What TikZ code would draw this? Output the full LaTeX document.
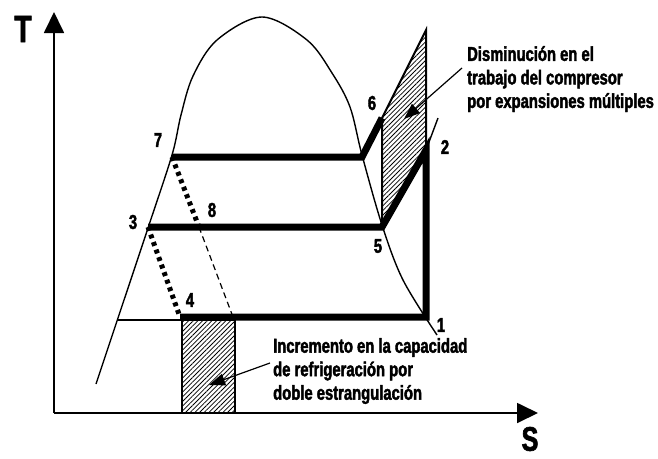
\documentclass[tikz,border=0pt]{standalone}
\usepackage{fontspec}
\newfontfamily\cond[FakeStretch=0.74,FakeBold=2]{Liberation Sans Bold}
\usetikzlibrary{arrows.meta,patterns.meta}
\begin{document}
\begin{tikzpicture}[x=1pt,y=-1pt,
  thinl/.style={line width=1.4pt},
  boldl/.style={line width=7pt,line join=miter},
  medl/.style={line width=2pt},
  dotl/.style={line width=5pt,dash pattern=on 4pt off 4pt},
  dashl/.style={line width=1.2pt,dash pattern=on 6pt off 4pt},
  hatch/.style={pattern={Lines[angle=45,distance=3.3pt,line width=0.8pt]}},
  lbl/.style={font=\cond\fontsize{20}{20}\selectfont,inner sep=0pt},
  axlbl/.style={font=\cond\fontsize{38}{38}\selectfont,inner sep=0pt},
  note/.style={font=\cond\fontsize{20}{23.5}\selectfont,align=left,inner sep=0pt,anchor=north west},
  lead/.style={line width=1.2pt,-{Triangle[length=16pt,width=12pt]}},
  axis/.style={line width=1.8pt,-{Triangle[length=21pt,width=20pt]}}
]
\useasboundingbox (0,0) rectangle (658,458);
% coordinates
\coordinate (O) at (54,413);
\coordinate (Ttip) at (54,12);
\coordinate (Stip) at (538,413);
\coordinate (p1) at (426,317);
\coordinate (p2) at (426,150);
\coordinate (p3) at (148,227);
\coordinate (p4) at (180,317);
\coordinate (p5) at (382,227);
\coordinate (p6) at (382,118);
\coordinate (p7) at (172,157);
\coordinate (p8) at (199,227);
\coordinate (g7) at (362,157);
\coordinate (top) at (426,30);
\coordinate (q2) at (438,118);
\coordinate (d4) at (233,317);
\coordinate (liq) at (117,320);
\coordinate (rl) at (182,320);
\coordinate (rr) at (235,413);
% hatched areas
\fill[hatch] (p5) -- (p2) -- (top) -- (p6) -- cycle;
\filldraw[hatch,draw=black,medl] (rl) rectangle (rr);
% axes
\draw[axis] (O) -- (Ttip);
\draw[axis] (O) -- (Stip);
\node[axlbl] (T) at (23,29) {T};
\node[axlbl,font=\cond\fontsize{34}{34}\selectfont] (S) at (530,439) {S};
% saturation dome
\draw[thinl] plot[smooth,tension=0.55] coordinates {(96,384) (117,321) (148,228) (172,155) (181,115) (193,76) (217,40) (262,17) (307,40) (332,73) (350,107) (362,155) (382,225) (403,280) (437,335)};
% thin lines
\draw[thinl] (liq) -- (rl);
\draw[thinl] (p2) -- (q2);
\draw[medl] (p5) -- (p6) -- (top) -- (p2);
% cycle
\draw[boldl] (p7) -- (g7) -- (p6);
\draw[boldl] (p3) -- (p5) -- (p2) -- (p1) -- (p4);
\draw[dotl] (p7) -- (p8);
\draw[dashl] (p8) -- (d4);
\draw[dotl] (p3) -- (p4);
% state labels
\node[lbl] (l1) at (441,325) {1};
\node[lbl] (l2) at (445,147) {2};
\node[lbl] (l3) at (133,222) {3};
\node[lbl] (l4) at (190,300) {4};
\node[lbl] (l5) at (378,246) {5};
\node[lbl] (l6) at (372,103) {6};
\node[lbl] (l7) at (158,140) {7};
\node[lbl] (l8) at (212,210) {8};
% notes
\node[note] (n1) at (467,46) {Disminución en el\\trabajo del compresor\\por expansiones múltiples};
\node[note] (n2) at (273,338) {Incremento en la capacidad\\de refrigeración por\\doble estrangulación};
\coordinate (a1s) at (462,68);
\coordinate (a1e) at (404,119);
\coordinate (a2s) at (270,363);
\coordinate (a2e) at (209,385);
\draw[lead] (a1s) -- (a1e);
\draw[lead] (a2s) -- (a2e);
\end{tikzpicture}
\end{document}
